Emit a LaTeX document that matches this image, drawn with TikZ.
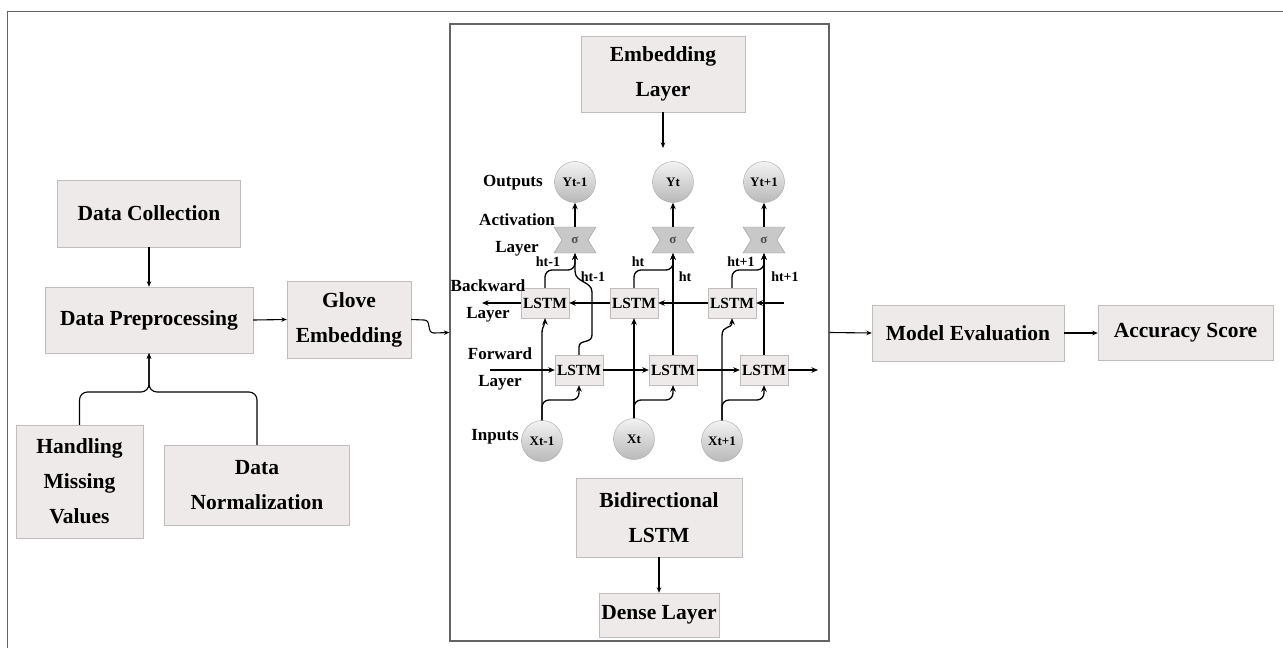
\documentclass[tikz,border=0pt]{standalone}
\usepackage{fontspec}
\setmainfont{Liberation Serif}
\usetikzlibrary{arrows.meta, positioning}
\definecolor{boxfill}{RGB}{238,234,234}
\definecolor{boxline}{RGB}{192,188,188}
\definecolor{framegray}{RGB}{100,100,100}
\definecolor{sigmafill}{RGB}{200,200,200}
\newcommand{\fsz}[2]{\fontsize{#1}{#2}\selectfont}

\begin{document}
\begin{tikzpicture}[x=1pt, y=-1pt,
  every node/.style={font=\bfseries},
  box/.style={draw=boxline, fill=boxfill, align=center, inner sep=0pt, font=\bfseries\fsz{21.5}{35}},
  lstm/.style={draw=boxline, fill=boxfill, minimum width=48, minimum height=30, inner sep=0pt, font=\bfseries\fsz{15.5}{15.5}},
  unit/.style={circle, draw=gray!70, top color=gray!10, bottom color=gray!55, minimum size=41, inner sep=0pt, font=\bfseries\fsz{13}{13}},
  gate/.style={minimum width=42, minimum height=26, inner sep=0pt, text=black!70, font=\bfseries\fsz{13}{13}},
  lbl/.style={align=center, font=\bfseries\fsz{17}{27}},
  hlbl/.style={font=\bfseries\fsz{14}{14}},
  conn/.style={-{Stealth[length=6.5pt,width=5.5pt]}, line width=1.3pt},
  link/.style={-{Stealth[length=5.5pt,width=4.5pt]}, line width=1.1pt}]
  \useasboundingbox (0,0) rectangle (1283,648);
  \draw[framegray, line width=1pt] (7,648) -- (7,11) -- (1283,11);

  % left part
  \node[box, minimum width=183, minimum height=67] (coll) at (149,213.5) {Data Collection};
  \node[box, minimum width=208, minimum height=66] (prep) at (149,320) {Data Preprocessing};
  \node[box, minimum width=124, minimum height=77] (glove) at (349,319.5) {Glove\\Embedding};
  \node[box, minimum width=127, minimum height=113] (miss) at (79.5,481.5) {Handling\\Missing\\Values};
  \node[box, minimum width=185, minimum height=80] (norm) at (257,485) {Data\\Normalization};
  \draw[link] (coll.south) -- (prep.north);
  \draw[link] (prep.east) -- (glove.west);
  \draw[link, rounded corners=8] (miss.north) |- (149,392) -- (prep.south);
  \draw[link, rounded corners=8] (norm.north) |- (149,392) -- (prep.south);

  % model frame
  \node[draw=framegray, line width=1.3pt, minimum width=379, minimum height=617, inner sep=0pt] (model) at (639.5,332.5) {};
  \draw[link] (glove.east) -- (424,320) .. controls +(8,0) and +(-8,0) .. (434,333) -- (model.west);
  \node[box, minimum width=164, minimum height=76] (emb) at (663,74) {Embedding\\Layer};
  \coordinate (embend) at (663,148);
  \draw[link] (emb.south) -- (embend);
  \node[box, minimum width=166, minimum height=79] (bid) at (659,517.5) {Bidirectional\\LSTM};
  \node[box, minimum width=120, minimum height=44] (dense) at (659,615) {Dense Layer};
  \draw[link] (bid.south) -- (dense.north);

  % outputs and gates
  \node[unit] (y1) at (575,182) {Yt-1};
  \node[unit] (y2) at (673,182) {Yt};
  \node[unit] (y3) at (764,182) {Yt+1};
  \foreach \n/\x in {1/575, 2/673, 3/764} {
    \draw[gray!80, fill=sigmafill] (\x-21,227) -- (\x-13,240) -- (\x-21,253) -- (\x+21,253) -- (\x+13,240) -- (\x+21,227) -- cycle;
    \node[gate] (s\n) at (\x,240) {σ};
    \draw[conn] (s\n.north) -- (y\n.south);
  }

  % backward and forward layers
  \node[lstm] (b1) at (545,303) {LSTM};
  \node[lstm] (b2) at (634,303) {LSTM};
  \node[lstm] (b3) at (732,303) {LSTM};
  \node[lstm] (f1) at (579,370) {LSTM};
  \node[lstm] (f2) at (673,370) {LSTM};
  \node[lstm] (f3) at (764,370) {LSTM};
  \coordinate (bin) at (784,303);
  \coordinate (bout) at (482,303);
  \coordinate (fin) at (490,370);
  \coordinate (fout) at (818,370);
  \draw[conn] (bin) -- (b3.east);
  \draw[conn] (b3.west) -- (b2.east);
  \draw[conn] (b2.west) -- (b1.east);
  \draw[conn] (b1.west) -- (bout);
  \draw[conn] (fin) -- (f1.west);
  \draw[conn] (f1.east) -- (f2.west);
  \draw[conn] (f2.east) -- (f3.west);
  \draw[conn] (f3.east) -- (fout);

  % hidden states to gates
  \draw[conn, rounded corners=7] (b1.north) |- (575,270) -- (s1.south);
  \draw[conn] (f1.north) -- (579,347) .. controls (579,339) and (592,344) .. (592,335) -- (592,292) .. controls (592,281) and (575,283) .. (575,271) -- (s1.south);
  \draw[conn, rounded corners=7] (b2.north) |- (673,270) -- (s2.south);
  \draw[conn] (f2.north) -- (s2.south);
  \draw[conn, rounded corners=7] (b3.north) |- (764,270) -- (s3.south);
  \draw[conn] (f3.north) -- (s3.south);

  % inputs
  \node[unit] (x1) at (542,441) {Xt-1};
  \node[unit] (x2) at (634,439) {Xt};
  \node[unit] (x3) at (722,441) {Xt+1};
  \draw[conn] (x1.north) -- (542,334) .. controls (542,325) and (545,326) .. (b1.south);
  \draw[conn, rounded corners=7] (x1.north) |- (579,400) -- (f1.south);
  \draw[conn] (x2.north) -- (b2.south);
  \draw[conn, rounded corners=7] (x2.north) |- (673,400) -- (f2.south);
  \draw[conn] (x3.north) -- (722,336) .. controls (722,324) and (732,330) .. (b3.south);
  \draw[conn, rounded corners=7] (x3.north) |- (764,400) -- (f3.south);

  % labels
  \node[lbl] (outlbl) at (513,183) {Outputs};
  \node[lbl] (actlbl) at (517,235) {Activation\\Layer};
  \node[lbl] (bwlbl) at (488,301) {Backward\\Layer};
  \node[lbl] (fwlbl) at (500,369) {Forward\\Layer};
  \node[lbl] (inlbl) at (495,437) {Inputs};
  \node[hlbl] at (548,262) {ht-1};
  \node[hlbl] at (593,277) {ht-1};
  \node[hlbl] at (638,262) {ht};
  \node[hlbl] at (685,277) {ht};
  \node[hlbl] at (741,262) {ht+1};
  \node[hlbl] at (785,277) {ht+1};

  % right part
  \node[box, minimum width=192, minimum height=56] (eval) at (968,333) {Model Evaluation};
  \node[box, minimum width=175, minimum height=55] (acc) at (1185.5,333) {Accuracy Score};
  \draw[link] (model.east) -- (eval.west);
  \draw[link] (eval.east) -- (acc.west);
\end{tikzpicture}
\end{document}
